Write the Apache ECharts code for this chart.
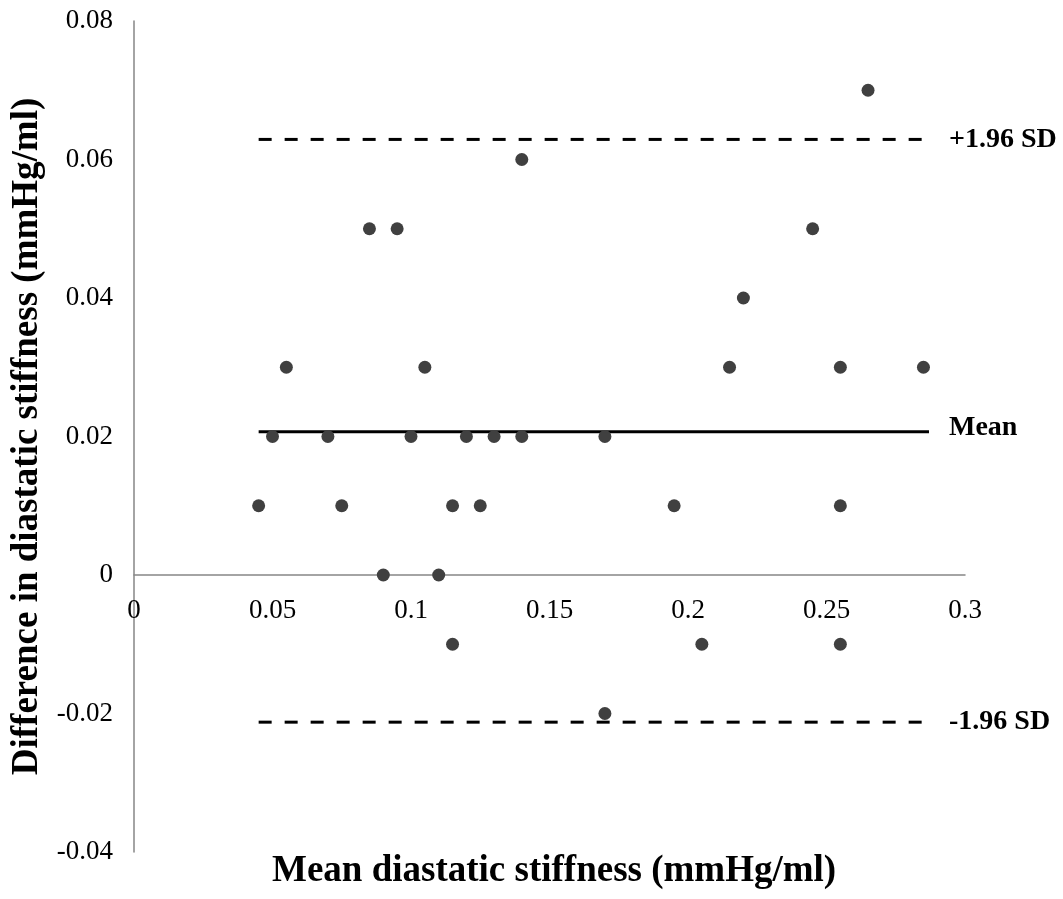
<!DOCTYPE html>
<html>
<head>
<meta charset="utf-8">
<script src="https://cdn.jsdelivr.net/npm/echarts@6/dist/echarts.min.js"></script>
<style>html,body{margin:0;padding:0;background:#fff;}#chart{width:1063px;height:899px;}</style>
</head>
<body>
<div id="chart"></div>
<script>
// Mean of the two measurements (x) and their difference (y)
const meanStiffness = [0.045, 0.05, 0.055, 0.07, 0.075, 0.085, 0.09, 0.095, 0.1, 0.105, 0.11, 0.115, 0.115, 0.12, 0.125, 0.13, 0.14, 0.14, 0.17, 0.17, 0.195, 0.205, 0.215, 0.22, 0.245, 0.255, 0.255, 0.255, 0.265, 0.285];
const diffStiffness = [0.01, 0.02, 0.03, 0.02, 0.01, 0.05, 0, 0.05, 0.02, 0.03, 0, 0.01, -0.01, 0.02, 0.01, 0.02, 0.06, 0.02, 0.02, -0.02, 0.01, -0.01, 0.03, 0.04, 0.05, 0.03, 0.01, -0.01, 0.07, 0.03];
// Bias and limits of agreement
const biasValue = 0.0207;
const upperLimit = 0.0629;
const lowerLimit = -0.02125;
const lineRange = [0.045, 0.287];
const lineLabels = ['Mean', '+1.96 SD', '-1.96 SD'];

const FONT = '"Liberation Serif", "Times New Roman", serif';
const chart = echarts.init(document.getElementById('chart'));

function hLine(name, y, dashed) {
  return {
    type: 'line', name: name,
    data: [[lineRange[0], y], [lineRange[1], y]],
    symbol: 'none', silent: true, z: 1,
    lineStyle: { color: '#000', width: 3, type: dashed ? [13, 13] : 'solid' },
    endLabel: { show: true, formatter: name, distance: 20, color: '#000',
      fontFamily: FONT, fontWeight: 'bold', fontSize: 28,
      offset: [0, dashed ? 0 : -4] }
  };
}

chart.setOption({
  animation: false,
  backgroundColor: '#fff',
  grid: { left: 134, right: 98, top: 21, bottom: 47 },
  title: {
    text: 'Mean diastatic stiffness (mmHg/ml)',
    left: 267, top: 848,
    textStyle: { fontFamily: FONT, fontWeight: 'bold', fontSize: 37, color: '#000' }
  },
  xAxis: {
    type: 'value', min: 0, max: 0.3, interval: 0.05,
    axisLine: { onZero: true, lineStyle: { color: '#868686', width: 1.5 } },
    axisTick: { show: false },
    splitLine: { show: false },
    axisLabel: { fontFamily: FONT, fontSize: 27, color: '#000', margin: -255 }
  },
  yAxis: {
    type: 'value', min: -0.04, max: 0.08, interval: 0.02,
    name: 'Difference in diastatic stiffness (mmHg/ml)',
    nameLocation: 'middle', nameGap: 84,
    nameTextStyle: { fontFamily: FONT, fontWeight: 'bold', fontSize: 37, color: '#000' },
    axisLine: { show: true, onZero: false, lineStyle: { color: '#868686', width: 1.5 } },
    axisTick: { show: false },
    splitLine: { show: false },
    axisLabel: { fontFamily: FONT, fontSize: 27, color: '#000', margin: 21 }
  },
  series: [
    {
      type: 'scatter', name: 'Difference', z: 3,
      data: meanStiffness.map((m, i) => [m, diffStiffness[i]]),
      symbolSize: 13,
      itemStyle: { color: '#404040', opacity: 1 }
    },
    hLine(lineLabels[0], biasValue, false),
    hLine(lineLabels[1], upperLimit, true),
    hLine(lineLabels[2], lowerLimit, true)
  ]
});
</script>
</body>
</html>
